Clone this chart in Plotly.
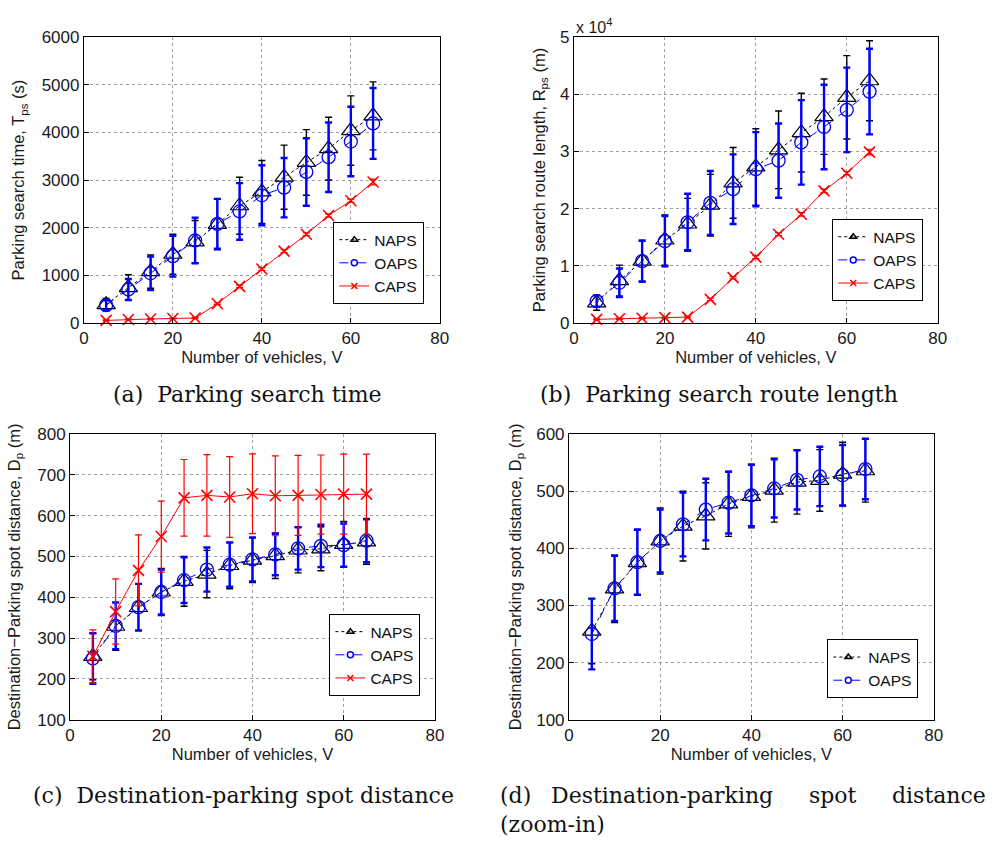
import plotly.graph_objects as go

# ---- data -------------------------------------------------------------
vehicles = [5, 10, 15, 20, 25, 30, 35, 40, 45, 50, 55, 60, 65]

# (a) parking search time T_ps (s)
time_naps = [380, 740, 1075, 1440, 1700, 2070, 2460, 2750, 3060, 3370, 3660, 4040, 4350]
time_naps_err = [130, 270, 350, 420, 450, 535, 600, 660, 675, 690, 660, 730, 715]
time_oaps = [370, 700, 1040, 1400, 1730, 2080, 2340, 2680, 2840, 3170, 3480, 3810, 4190]
time_oaps_err = [100, 220, 350, 430, 480, 525, 595, 630, 625, 710, 730, 730, 745]
time_caps = [50, 70, 80, 90, 100, 400, 765, 1130, 1505, 1860, 2255, 2565, 2960]
time_caps_err = [10, 10, 10, 10, 15, 20, 25, 30, 30, 30, 35, 35, 60]

# (b) parking search route length R_ps (m)
route_naps = [3500, 7400, 10800, 14500, 17300, 20600, 24500, 27300, 30300, 33300, 36100, 39500, 42400]
route_naps_err = [1300, 2700, 3500, 4400, 4500, 5400, 6200, 6700, 6800, 6900, 6600, 7300, 7000]
route_oaps = [3800, 7000, 10800, 14300, 17600, 21000, 23400, 26900, 28400, 31600, 34300, 37300, 40500]
route_oaps_err = [1000, 2500, 3600, 4400, 5000, 5600, 6100, 6500, 6500, 7400, 7400, 7400, 7500]
route_caps = [600, 700, 800, 900, 1000, 4100, 7900, 11500, 15500, 19000, 23100, 26200, 29900]
route_caps_err = [100, 100, 100, 100, 150, 200, 200, 250, 250, 300, 300, 300, 500]

# (c)/(d) destination - parking spot distance D_p (m)
dist_naps = [255, 329, 375, 413, 439, 457, 478, 491, 502, 516, 519, 530, 536]
dist_naps_err = [57, 59, 57, 58, 61, 58, 57, 55, 56, 56, 54, 56, 55]
dist_oaps = [250, 330, 376, 413, 442, 468, 480, 493, 505, 520, 526, 528, 539]
dist_oaps_err = [62, 57, 57, 55, 56, 54, 54, 54, 51, 52, 52, 53, 53]
dist_caps = [255, 365, 466, 549, 644, 650, 646, 654, 649, 650, 652, 653, 653]
dist_caps_err = [65, 80, 87, 87, 94, 100, 99, 98, 98, 98, 97, 98, 98]

route_ticks = [0, 10000, 20000, 30000, 40000, 50000]
route_ticktext = ["0", "1", "2", "3", "4", "5"]

# ---- styling ----------------------------------------------------------
W, H = 999, 844
BLACK, BLUE, RED = "#000000", "#0000ff", "#ff0000"
SANS = "Liberation Sans, Arial, sans-serif"
TICK_FONT = dict(family=SANS, size=17, color="#1a1a1a")
TITLE_FONT = dict(family=SANS, size=16.5, color="#1a1a1a")
CAP_FONT = dict(family="DejaVu Serif, serif", size=22, color="#111111")

STYLES = {
    "NAPS": dict(color=BLACK, dash="dot", symbol="triangle-up-open", size=16,
                 err_w=1.4, mw=1.2),
    "OAPS": dict(color=BLUE, dash="dash", symbol="circle-open", size=13,
                 err_w=2.4, mw=1.3),
    "CAPS": dict(color=RED, dash="solid", symbol="x-thin-open", size=11,
                 err_w=1.2, mw=1.6),
}


def px_x(p):
    return p / W


def px_y(p):
    return 1 - p / H


fig = go.Figure()

panels = [
    # axis suffix, legend id, series list, x-domain px, y-domain px
    ("", "legend", [("NAPS", time_naps, time_naps_err), ("OAPS", time_oaps, time_oaps_err),
                    ("CAPS", time_caps, time_caps_err)], (80, 441), (29, 321)),
    ("2", "legend2", [("NAPS", route_naps, route_naps_err), ("OAPS", route_oaps, route_oaps_err),
                      ("CAPS", route_caps, route_caps_err)], (577, 946), (29, 321)),
    ("3", "legend3", [("NAPS", dist_naps, dist_naps_err), ("OAPS", dist_oaps, dist_oaps_err),
                      ("CAPS", dist_caps, dist_caps_err)], (66, 436), (435, 727)),
    ("4", "legend4", [("NAPS", dist_naps, dist_naps_err), ("OAPS", dist_oaps, dist_oaps_err)],
     (572, 942), (435, 727)),
]

for suffix, leg, series, _, _ in panels:
    xa, ya = "x" + suffix, "y" + suffix
    for name, vals, errs in series:
        st = STYLES[name]
        fig.add_trace(go.Scatter(
            x=vehicles, y=vals, xaxis=xa, yaxis=ya, mode="lines+markers",
            line=dict(color=st["color"], dash=st["dash"], width=1),
            marker=dict(symbol=st["symbol"], size=st["size"], color=st["color"],
                        line=dict(color=st["color"], width=st["mw"])),
            error_y=dict(type="data", array=errs, visible=True, color=st["color"],
                         thickness=st["err_w"], width=3.5),
            showlegend=False, name=name, cliponaxis=False,
        ))
    # small-marker legend entries
    for name, _, _ in series:
        st = STYLES[name]
        fig.add_trace(go.Scatter(
            x=[None], y=[None], xaxis=xa, yaxis=ya, mode="lines+markers", name=name,
            line=dict(color=st["color"], dash=st["dash"], width=1),
            marker=dict(symbol=st["symbol"], size=6, color=st["color"],
                        line=dict(color=st["color"], width=1.5)),
            legend=leg, showlegend=True,
        ))

axis_common = dict(
    showline=True, linecolor="black", linewidth=1, mirror=True,
    ticks="inside", ticklen=5, tickcolor="black",
    showgrid=True, gridcolor="#a0a0a0", griddash="dot", gridwidth=1,
    zeroline=False, tickfont=TICK_FONT, title_font=TITLE_FONT,
)

ytitles = [
    "Parking search time, T<sub>ps</sub> (s)",
    "Parking search route length, R<sub>ps</sub> (m)",
    "Destination\u2212Parking spot distance, D<sub>p</sub> (m)",
    "Destination\u2212Parking spot distance, D<sub>p</sub> (m)",
]
yranges = [[0, 6000], [0, 50000], [100, 800], [100, 600]]
ydticks = [1000, None, 100, 100]
ystandoff = [12, 10, 12, 10]

for i, (suffix, leg, _, xd, yd) in enumerate(panels):
    xkey = "xaxis" + suffix
    ykey = "yaxis" + suffix
    fig.layout[xkey] = dict(
        axis_common, domain=[px_x(xd[0]), px_x(xd[1])], range=[0, 80],
        tickmode="linear", tick0=0, dtick=20,
        anchor="y" + suffix,
        title=dict(text="Number of vehicles, V", standoff=0),
    )
    yax = dict(
        axis_common, domain=[px_y(yd[1]), px_y(yd[0])], range=yranges[i],
        anchor="x" + suffix,
        title=dict(text=ytitles[i], standoff=ystandoff[i]),
    )
    if ydticks[i] is None:
        yax.update(tickmode="array", tickvals=route_ticks, ticktext=route_ticktext)
    else:
        yax.update(tickmode="linear", tick0=yranges[i][0], dtick=ydticks[i])
    fig.layout[ykey] = yax

legend_common = dict(
    bgcolor="white", bordercolor="black", borderwidth=1,
    font=dict(family=SANS, size=15.5, color="#111111"),
    xanchor="left", yanchor="top", xref="paper", yref="paper",
    itemwidth=30, tracegroupgap=0,
)
legend_pos = {
    "legend": (333, 218),
    "legend2": (839, 215),
    "legend3": (329, 619),
    "legend4": (834, 645),
}
for key, (lx, ly) in legend_pos.items():
    fig.layout[key] = dict(legend_common, x=px_x(lx), y=px_y(ly))

annotations = [
    dict(text="x 10<sup>4</sup>", x=px_x(577), y=px_y(17), xanchor="left", yanchor="middle",
         font=dict(family=SANS, size=16, color="#1a1a1a")),
    dict(text="(a)\u00a0 Parking search time", x=px_x(246), y=px_y(394),
         xanchor="center", yanchor="middle", font=CAP_FONT),
    dict(text="(b)\u00a0 Parking search route length", x=px_x(724), y=px_y(394),
         xanchor="center", yanchor="middle", font=CAP_FONT),
    dict(text="(c)\u00a0 Destination-parking spot distance", x=px_x(242), y=px_y(805),
         xanchor="center", yanchor="middle", font=CAP_FONT),
    # justified two-line caption for panel (d)
    dict(text="(d)", x=px_x(500), y=px_y(805), xanchor="left", yanchor="middle", font=CAP_FONT),
    dict(text="Destination-parking", x=px_x(552), y=px_y(805), xanchor="left",
         yanchor="middle", font=CAP_FONT),
    dict(text="spot", x=px_x(813), y=px_y(805), xanchor="left", yanchor="middle", font=CAP_FONT),
    dict(text="distance", x=px_x(898), y=px_y(805), xanchor="left", yanchor="middle",
         font=CAP_FONT),
    dict(text="(zoom-in)", x=px_x(500), y=px_y(834), xanchor="left", yanchor="middle",
         font=CAP_FONT),
]
for a in annotations:
    a.update(xref="paper", yref="paper", showarrow=False)
fig.update_layout(annotations=annotations)

fig.update_layout(
    width=W, height=H, margin=dict(l=0, r=0, t=0, b=0),
    paper_bgcolor="white", plot_bgcolor="white",
    font=TICK_FONT,
)

fig.write_html("out.html")
